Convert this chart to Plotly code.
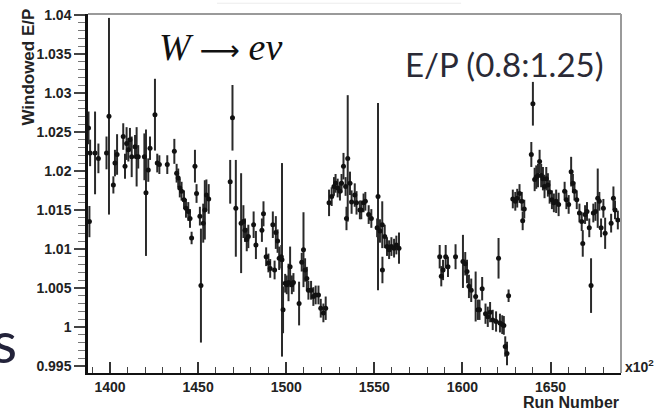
import plotly.graph_objects as go

# ---- data (run number x10^2, windowed E/P, error) ----
runs = [
    1387.8, 1388.3, 1388.7, 1391.5, 1393.4, 1398.0, 1399.4, 1401.9, 1402.8, 1404.0,
    1407.5, 1408.5, 1409.4, 1410.4, 1411.3, 1412.3, 1414.2, 1415.1, 1416.0, 1419.5,
    1420.4, 1421.7, 1422.7, 1425.5, 1426.8, 1428.0, 1432.5, 1436.5, 1437.8, 1438.7,
    1439.6, 1440.6, 1442.0, 1443.1, 1444.4, 1445.4, 1446.3, 1448.2, 1449.1, 1451.0,
    1451.6, 1452.9, 1453.8, 1454.7, 1456.0,
    1468.2, 1469.5, 1471.4, 1474.4, 1475.7, 1476.6, 1477.6, 1478.5, 1481.5, 1482.8,
    1486.2, 1487.1, 1488.6, 1489.9, 1490.9, 1492.4, 1493.4, 1494.1, 1495.1, 1496.0,
    1497.2, 1497.6, 1498.2, 1499.4, 1500.3, 1501.3, 1502.2, 1503.2, 1504.1, 1507.3,
    1508.8, 1509.8, 1510.7, 1511.7, 1512.6, 1514.1, 1515.4, 1516.7, 1518.3, 1519.6,
    1521.1, 1522.4,
    1524.3, 1525.8, 1527.1, 1528.0, 1529.2, 1530.5, 1531.4, 1532.5, 1533.7, 1534.2,
    1534.9, 1536.2, 1537.1, 1538.9, 1539.9, 1541.8, 1542.6, 1543.9, 1544.9, 1546.8,
    1548.3, 1551.6, 1552.1, 1553.2, 1554.5, 1554.6, 1555.9, 1557.2, 1558.4, 1559.7,
    1561.2, 1562.5, 1564.0,
    1587.1, 1588.0, 1589.0, 1590.5, 1591.8, 1596.1, 1600.3, 1601.6, 1602.6, 1603.7,
    1605.0, 1607.5, 1608.8, 1609.7, 1611.2, 1613.1, 1614.4, 1615.7, 1617.2, 1619.1,
    1620.5, 1621.3, 1622.6, 1623.5, 1624.3, 1625.3, 1626.2,
    1628.6, 1630.0, 1631.1, 1632.4, 1633.7, 1634.2, 1635.1, 1639.1, 1640.0, 1641.0,
    1641.9, 1642.9, 1643.8, 1644.7, 1645.7, 1646.6, 1647.6, 1648.5, 1649.5, 1650.8,
    1651.9, 1653.2, 1654.6, 1658.0, 1659.0, 1660.3, 1661.7, 1662.7, 1663.6, 1664.9,
    1666.4, 1667.7, 1668.3, 1669.6, 1670.7, 1672.0, 1673.0, 1674.3, 1675.5, 1676.8,
    1677.7, 1678.7, 1680.0, 1681.0, 1684.4, 1685.7, 1686.6, 1688.2,
]

ep_values = [
    1.0255, 1.0135, 1.0223, 1.0223, 1.0216, 1.0223, 1.0270, 1.0182, 1.0210, 1.0221,
    1.0244, 1.0206, 1.0235, 1.0227, 1.0240, 1.0218, 1.0231, 1.0218, 1.0218, 1.0218,
    1.0172, 1.0201, 1.0229, 1.0272, 1.0210, 1.0208, 1.0208, 1.0225, 1.0197, 1.0191,
    1.0178, 1.0174, 1.0163, 1.0152, 1.0148, 1.0139, 1.0114, 1.0206, 1.0171, 1.0142,
    1.0053, 1.0133, 1.0150, 1.0169, 1.0164,
    1.0186, 1.0268, 1.0152, 1.0133, 1.0135, 1.0124, 1.0112, 1.0116, 1.0131, 1.0105,
    1.0124, 1.0145, 1.0090, 1.0082, 1.0075, 1.0131, 1.0073, 1.0121, 1.0110, 1.0088,
    1.0090, 1.0086, 1.0022, 1.0056, 1.0054, 1.0057, 1.0077, 1.0054, 1.0057, 1.0030,
    1.0083, 1.0099, 1.0073, 1.0062, 1.0047, 1.0047, 1.0039, 1.0041, 1.0041, 1.0024,
    1.0018, 1.0024,
    1.0159, 1.0167, 1.0180, 1.0184, 1.0178, 1.0174, 1.0184, 1.0206, 1.0180, 1.0139,
    1.0216, 1.0184, 1.0160, 1.0169, 1.0159, 1.0150, 1.0150, 1.0159, 1.0161, 1.0144,
    1.0139, 1.0127, 1.0167, 1.0123, 1.0131, 1.0073, 1.0116, 1.0103, 1.0099, 1.0103,
    1.0101, 1.0105, 1.0101,
    1.0090, 1.0065, 1.0073, 1.0090, 1.0077, 1.0090, 1.0084, 1.0081, 1.0071, 1.0052,
    1.0047, 1.0039, 1.0022, 1.0022, 1.0049, 1.0017, 1.0013, 1.0019, 1.0009, 1.0007,
    1.0088, 1.0005, 1.0003, 1.0002, 0.9975, 0.9966, 1.0040,
    1.0164, 1.0161, 1.0165, 1.0171, 1.0161, 1.0136, 1.0151, 1.0221, 1.0286, 1.0189,
    1.0192, 1.0194, 1.0212, 1.0194, 1.0190, 1.0180, 1.0190, 1.0182, 1.0173, 1.0163,
    1.0159, 1.0161, 1.0157, 1.0174, 1.0163, 1.0157, 1.0199, 1.0184, 1.0174, 1.0163,
    1.0146, 1.0135, 1.0107, 1.0144, 1.0148, 1.0127, 1.0053, 1.0146, 1.0148, 1.0165,
    1.0161, 1.0127, 1.0152, 1.0120, 1.0133, 1.0165, 1.0150, 1.0137,
]

ep_errors = [
    0.0021, 0.0020, 0.0017, 0.0053, 0.0019, 0.0021, 0.0126, 0.0011, 0.0017, 0.0026,
    0.0017, 0.0016, 0.0021, 0.0015, 0.0015, 0.0026, 0.0015, 0.0038, 0.0015, 0.0030,
    0.0081, 0.0015, 0.0015, 0.0046, 0.0012, 0.0012, 0.0012, 0.0016, 0.0012, 0.0012,
    0.0012, 0.0012, 0.0012, 0.0012, 0.0012, 0.0012, 0.0008, 0.0021, 0.0012, 0.0012,
    0.0073, 0.0025, 0.0038, 0.0020, 0.0019,
    0.0028, 0.0042, 0.0062, 0.0064, 0.0021, 0.0015, 0.0015, 0.0015, 0.0017, 0.0018,
    0.0015, 0.0016, 0.0012, 0.0012, 0.0012, 0.0017, 0.0012, 0.0021, 0.0015, 0.0015,
    0.0015, 0.0124, 0.0030, 0.0012, 0.0012, 0.0024, 0.0026, 0.0012, 0.0012, 0.0028,
    0.0012, 0.0048, 0.0015, 0.0015, 0.0012, 0.0012, 0.0012, 0.0012, 0.0012, 0.0012,
    0.0012, 0.0015,
    0.0017, 0.0012, 0.0012, 0.0012, 0.0012, 0.0012, 0.0012, 0.0017, 0.0012, 0.0015,
    0.0081, 0.0015, 0.0015, 0.0015, 0.0015, 0.0012, 0.0012, 0.0012, 0.0012, 0.0012,
    0.0012, 0.0012, 0.0120, 0.0015, 0.0030, 0.0017, 0.0015, 0.0012, 0.0012, 0.0012,
    0.0012, 0.0012, 0.0020,
    0.0015, 0.0013, 0.0013, 0.0015, 0.0013, 0.0016, 0.0034, 0.0015, 0.0015, 0.0015,
    0.0015, 0.0032, 0.0013, 0.0013, 0.0015, 0.0013, 0.0013, 0.0013, 0.0013, 0.0013,
    0.0026, 0.0012, 0.0012, 0.0012, 0.0013, 0.0015, 0.0008,
    0.0012, 0.0012, 0.0012, 0.0012, 0.0012, 0.0012, 0.0012, 0.0016, 0.0028, 0.0015,
    0.0015, 0.0015, 0.0015, 0.0015, 0.0015, 0.0015, 0.0015, 0.0015, 0.0015, 0.0012,
    0.0012, 0.0015, 0.0015, 0.0012, 0.0012, 0.0012, 0.0019, 0.0012, 0.0012, 0.0012,
    0.0012, 0.0012, 0.0017, 0.0012, 0.0012, 0.0012, 0.0035, 0.0012, 0.0012, 0.0038,
    0.0012, 0.0012, 0.0012, 0.0020, 0.0012, 0.0015, 0.0012, 0.0012,
]

x_tickvals = [1400, 1450, 1500, 1550, 1600, 1650]
x_ticktext = ["1400", "1450", "1500", "1550", "1600", "1650"]
y_tickvals = [0.995, 1.0, 1.005, 1.01, 1.015, 1.02, 1.025, 1.03, 1.035, 1.04]
y_ticktext = ["0.995", "1", "1.005", "1.01", "1.015", "1.02", "1.025", "1.03", "1.035", "1.04"]

fig = go.Figure()
fig.add_trace(go.Scatter(
    x=runs, y=ep_values, mode="markers",
    marker=dict(color="#111111", size=5),
    error_y=dict(type="data", array=ep_errors, visible=True,
                 color="#2a2a2a", thickness=2, width=0),
    showlegend=False,
))

tickfont = dict(family="Liberation Sans, Arial, sans-serif", size=14,
                color="#222222", weight="bold")

fig.update_layout(
    width=664, height=408,
    margin=dict(l=88, r=43, t=14, b=35),
    paper_bgcolor="white", plot_bgcolor="white",
    xaxis=dict(
        range=[1387.5, 1690], showgrid=False, zeroline=False,
        showline=True, linecolor="#111111", linewidth=2,
        tickmode="array", tickvals=x_tickvals, ticktext=x_ticktext,
        ticks="inside", ticklen=11, tickwidth=1.5, tickcolor="#333333",
        minor=dict(dtick=10, tick0=1400, ticks="inside", ticklen=6,
                   tickwidth=1, tickcolor="#444444"),
        tickfont=tickfont, automargin=False,
    ),
    yaxis=dict(
        range=[0.9941, 1.0401], showgrid=False, zeroline=False,
        showline=True, linecolor="#111111", linewidth=2.5,
        tickmode="array", tickvals=y_tickvals, ticktext=y_ticktext,
        ticks="outside", ticklen=11, tickwidth=1.5, tickcolor="#444444",
        minor=dict(dtick=0.001, tick0=1.0, ticks="outside", ticklen=7,
                   tickwidth=1, tickcolor="#777777"),
        tickfont=tickfont, automargin=False,
    ),
    font=dict(family="Liberation Sans, Arial, sans-serif"),
)

# gray frame on top and right
fig.add_shape(type="line", xref="paper", yref="paper", x0=0, x1=1, y0=1, y1=1,
              line=dict(color="#9a9a9a", width=2))
fig.add_shape(type="line", xref="paper", yref="paper", x0=1, x1=1, y0=0, y1=1,
              line=dict(color="#9a9a9a", width=2))
# faint slide line at the very top
fig.add_shape(type="line", xref="paper", yref="paper", x0=0.242, x1=0.70,
              y0=1.030, y1=1.030, line=dict(color="#ececec", width=1))

annotations = [
    dict(text="<i>W</i><span style='font-family:DejaVu Sans;font-size:28px'> ⟶ </span><i>eν</i>",
         x=0.13, y=1.0, xref="paper", yref="paper",
         xanchor="left", yanchor="top", yshift=-10, showarrow=False,
         font=dict(family="Liberation Serif, Times New Roman, serif", size=38, color="#111111")),
    dict(text="E/P (0.8:1.25)", x=0.97, y=1.0, xref="paper", yref="paper",
         xanchor="right", yanchor="top", yshift=-28, showarrow=False,
         font=dict(family="Lato, Open Sans, sans-serif", size=33, color="#2a2a36")),
    dict(text="<b>Windowed E/P</b>", x=-0.112, y=1.02, xref="paper", yref="paper",
         xanchor="center", yanchor="top", textangle=-90, showarrow=False,
         font=dict(family="Liberation Sans, Arial, sans-serif", size=17, color="#222222")),
    dict(text="<b>Run Number</b>", x=1.0, y=0, xref="paper", yref="paper",
         xanchor="right", yanchor="top", yshift=-19, showarrow=False,
         font=dict(family="Liberation Sans, Arial, sans-serif", size=16, color="#222222")),
    dict(text="<b>x10<sup>2</sup></b>", x=1.0, y=0, xref="paper", yref="paper",
         xanchor="left", yanchor="middle", xshift=2, yshift=7, showarrow=False,
         font=dict(family="Liberation Sans, Arial, sans-serif", size=14, color="#222222")),
    dict(text="s", x=-0.129, y=0, xref="paper", yref="paper",
         xanchor="right", yanchor="bottom", yshift=-4, showarrow=False,
         font=dict(family="Lato, Open Sans, sans-serif", size=58, color="#23233a")),
]
fig.update_layout(annotations=annotations)

fig.write_html("out.html", config={"displayModeBar": False},
               post_script="document.body.style.margin='0';")
